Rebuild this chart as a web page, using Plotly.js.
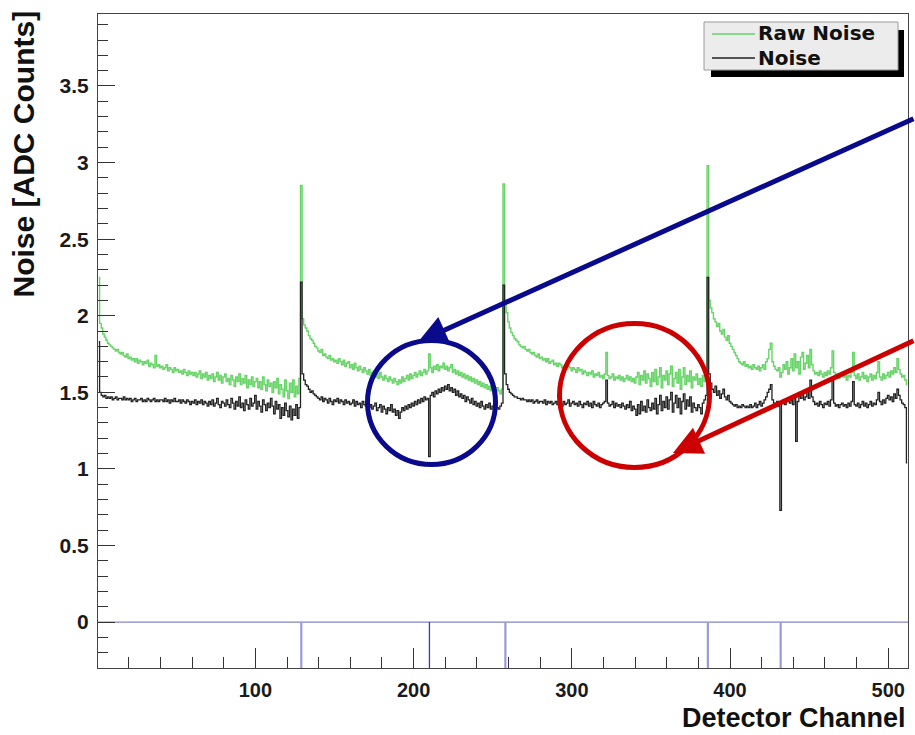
<!DOCTYPE html>
<html>
<head>
<meta charset="utf-8">
<script src="https://cdn.plot.ly/plotly-3.0.1.min.js"></script>
<style>
html,body{margin:0;padding:0;background:#ffffff;}
#chart{width:915px;height:735px;}
</style>
</head>
<body>
<div id="chart"></div>
<script>
// ---- data ----
const seriesNames = ['Raw Noise', 'Noise'];

const rawNoise = [
2.25,1.95,1.92,1.88,1.86,1.84,1.82,1.81,1.80,1.79,
1.78,1.77,1.78,1.76,1.75,1.76,1.74,1.73,1.75,1.72,
1.73,1.71,1.72,1.70,1.72,1.69,1.71,1.70,1.68,1.70,
1.69,1.71,1.67,1.69,1.68,1.66,1.74,1.67,1.68,1.66,
1.67,1.65,1.66,1.68,1.64,1.66,1.65,1.63,1.66,1.64,
1.65,1.63,1.64,1.62,1.65,1.63,1.61,1.64,1.62,1.63,
1.61,1.63,1.60,1.62,1.64,1.59,1.62,1.60,1.63,1.58,
1.61,1.59,1.62,1.57,1.60,1.63,1.58,1.61,1.56,1.60,
1.62,1.57,1.59,1.55,1.61,1.58,1.54,1.60,1.57,1.62,
1.55,1.59,1.56,1.61,1.53,1.58,1.55,1.60,1.54,1.57,
1.59,1.53,1.57,1.52,1.60,1.55,1.51,1.58,1.54,1.56,
1.50,1.57,1.53,1.59,1.49,1.55,1.52,1.47,1.58,1.51,
1.46,1.56,1.50,1.58,1.47,1.54,1.49,1.59,2.85,1.98,
1.94,1.92,1.90,1.87,1.85,1.84,1.82,1.80,1.79,1.77,
1.76,1.78,1.74,1.75,1.73,1.72,1.74,1.71,1.72,1.70,
1.71,1.69,1.72,1.70,1.68,1.71,1.67,1.69,1.70,1.66,
1.68,1.65,1.69,1.66,1.64,1.67,1.65,1.63,1.66,1.64,
1.62,1.65,1.61,1.63,1.64,1.60,1.62,1.59,1.63,1.60,
1.58,1.61,1.59,1.57,1.60,1.58,1.56,1.59,1.57,1.55,
1.58,1.56,1.60,1.57,1.59,1.61,1.58,1.62,1.59,1.61,
1.63,1.60,1.62,1.64,1.61,1.63,1.65,1.62,1.64,1.75,
1.66,1.63,1.67,1.65,1.68,1.64,1.67,1.66,1.69,1.65,
1.67,1.64,1.66,1.68,1.63,1.65,1.62,1.64,1.61,1.63,
1.60,1.62,1.59,1.61,1.58,1.60,1.57,1.59,1.56,1.58,
1.55,1.57,1.54,1.56,1.53,1.55,1.52,1.54,1.51,1.53,
1.52,1.50,1.53,1.51,1.49,1.52,2.86,2.10,2.02,1.96,
1.92,1.89,1.87,1.85,1.84,1.83,1.81,1.80,1.79,1.80,
1.78,1.77,1.78,1.76,1.75,1.76,1.74,1.73,1.75,1.72,
1.73,1.71,1.72,1.70,1.72,1.69,1.70,1.71,1.68,1.69,
1.67,1.69,1.68,1.66,1.67,1.68,1.65,1.67,1.66,1.64,
1.66,1.65,1.63,1.66,1.64,1.65,1.62,1.64,1.63,1.61,
1.63,1.62,1.64,1.60,1.62,1.61,1.63,1.60,1.61,1.59,
1.62,1.76,1.61,1.59,1.60,1.62,1.58,1.60,1.59,1.61,
1.58,1.60,1.57,1.59,1.61,1.58,1.60,1.57,1.59,1.56,
1.60,1.63,1.55,1.61,1.58,1.64,1.56,1.62,1.59,1.54,
1.63,1.57,1.65,1.55,1.60,1.66,1.53,1.61,1.58,1.64,
1.55,1.62,1.67,1.54,1.59,1.63,1.56,1.65,1.52,1.60,
1.66,1.55,1.61,1.57,1.64,1.53,1.60,1.58,1.62,1.55,
1.59,1.54,1.61,1.57,1.63,2.98,2.10,2.05,2.02,1.98,
1.96,1.93,1.95,1.90,1.88,1.91,1.86,1.84,1.87,1.82,
1.80,1.78,1.76,1.74,1.72,1.70,1.69,1.68,1.70,1.67,
1.68,1.66,1.67,1.65,1.68,1.66,1.65,1.67,1.64,1.66,
1.68,1.65,1.70,1.72,1.78,1.82,1.70,1.67,1.65,1.64,
1.66,1.60,1.63,1.68,1.65,1.70,1.62,1.66,1.72,1.64,
1.75,1.66,1.70,1.62,1.73,1.76,1.65,1.69,1.74,1.66,
1.78,1.68,1.64,1.62,1.63,1.61,1.64,1.62,1.60,1.63,
1.61,1.64,1.62,1.66,1.77,1.63,1.60,1.62,1.59,1.61,
1.63,1.60,1.62,1.58,1.61,1.60,1.63,1.76,1.61,1.59,
1.62,1.58,1.60,1.63,1.59,1.61,1.57,1.60,1.62,1.58,
1.61,1.59,1.63,1.70,1.60,1.58,1.62,1.59,1.61,1.63,
1.60,1.64,1.62,1.66,1.63,1.72,1.65,1.62,1.60,1.61,
1.58,1.55
];

const noise = [
1.83,1.50,1.48,1.47,1.48,1.46,1.47,1.46,1.47,1.45,
1.46,1.47,1.45,1.46,1.46,1.45,1.47,1.45,1.46,1.45,
1.46,1.44,1.45,1.46,1.44,1.45,1.45,1.46,1.44,1.45,
1.44,1.46,1.45,1.44,1.45,1.46,1.44,1.45,1.44,1.45,
1.45,1.44,1.46,1.44,1.45,1.43,1.45,1.44,1.46,1.44,
1.44,1.45,1.43,1.45,1.44,1.43,1.45,1.44,1.42,1.44,
1.43,1.45,1.42,1.44,1.43,1.45,1.42,1.44,1.43,1.41,
1.44,1.42,1.45,1.41,1.43,1.46,1.42,1.40,1.44,1.43,
1.41,1.45,1.42,1.40,1.46,1.43,1.39,1.44,1.41,1.47,
1.40,1.43,1.38,1.45,1.42,1.39,1.46,1.41,1.43,1.48,
1.39,1.44,1.41,1.37,1.45,1.42,1.38,1.43,1.40,1.46,
1.41,1.36,1.44,1.39,1.42,1.33,1.40,1.35,1.43,1.38,
1.34,1.41,1.32,1.39,1.35,1.42,1.33,1.40,2.22,1.62,
1.58,1.55,1.54,1.52,1.50,1.51,1.49,1.48,1.47,1.46,
1.45,1.47,1.44,1.46,1.45,1.43,1.46,1.44,1.42,1.45,
1.44,1.46,1.43,1.45,1.44,1.42,1.45,1.43,1.44,1.42,
1.43,1.45,1.41,1.44,1.42,1.43,1.40,1.44,1.42,1.41,
1.43,1.40,1.42,1.39,1.41,1.43,1.38,1.40,1.42,1.37,
1.41,1.39,1.36,1.40,1.38,1.42,1.37,1.39,1.35,1.38,
1.33,1.37,1.40,1.38,1.41,1.39,1.42,1.40,1.43,1.41,
1.44,1.42,1.45,1.43,1.46,1.44,1.47,1.45,1.46,1.08,
1.48,1.50,1.47,1.51,1.49,1.52,1.50,1.53,1.51,1.54,
1.52,1.55,1.51,1.53,1.50,1.52,1.48,1.51,1.47,1.49,
1.46,1.48,1.44,1.47,1.45,1.43,1.46,1.42,1.44,1.41,
1.43,1.40,1.44,1.41,1.39,1.42,1.40,1.43,1.39,1.41,
1.38,1.42,1.40,1.39,1.41,1.43,2.20,1.62,1.55,1.52,
1.50,1.49,1.48,1.47,1.47,1.46,1.46,1.45,1.46,1.45,
1.45,1.44,1.45,1.44,1.45,1.43,1.44,1.45,1.43,1.44,
1.44,1.43,1.45,1.42,1.44,1.43,1.44,1.42,1.43,1.44,
1.42,1.44,1.43,1.41,1.44,1.42,1.43,1.45,1.41,1.43,
1.44,1.42,1.43,1.41,1.44,1.42,1.40,1.43,1.42,1.44,
1.41,1.43,1.40,1.44,1.42,1.41,1.43,1.40,1.42,1.43,
1.44,1.58,1.43,1.41,1.42,1.44,1.40,1.43,1.41,1.42,
1.40,1.43,1.41,1.39,1.42,1.40,1.44,1.38,1.41,1.39,
1.35,1.42,1.36,1.44,1.38,1.41,1.37,1.45,1.40,1.38,
1.43,1.39,1.46,1.36,1.42,1.48,1.38,1.44,1.40,1.47,
1.39,1.45,1.50,1.37,1.43,1.48,1.40,1.46,1.36,1.44,
1.49,1.39,1.45,1.41,1.47,1.37,1.43,1.40,1.38,1.42,
1.40,1.36,1.43,1.45,1.48,2.25,1.62,1.56,1.52,1.50,
1.54,1.48,1.51,1.46,1.49,1.52,1.47,1.45,1.48,1.44,
1.43,1.42,1.41,1.42,1.40,1.41,1.40,1.42,1.41,1.40,
1.41,1.40,1.42,1.40,1.41,1.43,1.40,1.42,1.44,1.41,
1.43,1.45,1.47,1.50,1.52,1.55,1.45,1.43,1.42,1.44,
1.41,0.73,1.43,1.45,1.42,1.44,1.46,1.43,1.45,1.42,
1.47,1.18,1.44,1.48,1.46,1.50,1.45,1.47,1.52,1.46,
1.58,1.47,1.44,1.42,1.43,1.41,1.44,1.42,1.40,1.43,
1.42,1.44,1.41,1.45,1.58,1.43,1.41,1.42,1.40,1.42,
1.43,1.41,1.42,1.40,1.43,1.41,1.44,1.57,1.42,1.41,
1.43,1.40,1.42,1.44,1.41,1.43,1.40,1.42,1.44,1.41,
1.43,1.42,1.45,1.50,1.44,1.42,1.45,1.43,1.46,1.48,
1.45,1.47,1.44,1.49,1.46,1.52,1.48,1.45,1.43,1.42,
1.40,1.04
];

// flagged (bad) channels shown as drops of the status line below zero
const flaggedLight = [129, 258, 386, 432];
const flaggedDark = [210];
const statusLevel = 0;

const xTitle = 'Detector Channel';
const yTitle = 'Noise [ADC Counts]';

// ---- build traces ----
const channels = rawNoise.map((_, i) => i + 1);
const FONT = 'Liberation Sans, Arial, Helvetica, sans-serif';

function flagSegments(list) {
  const x = [], y = [];
  list.forEach(c => { x.push(c, c, null); y.push(statusLevel, -5, null); });
  return {x, y};
}
const fl = flagSegments(flaggedLight);
const fd = flagSegments(flaggedDark);

const traces = [
  {x: [0.5, 512.5], y: [statusLevel, statusLevel], mode: 'lines', showlegend: false,
   line: {color: '#8484cc', width: 1.3}, hoverinfo: 'skip'},
  {x: fl.x, y: fl.y, mode: 'lines', showlegend: false,
   line: {color: '#9a9ad8', width: 2.2}, hoverinfo: 'skip'},
  {x: fd.x, y: fd.y, mode: 'lines', showlegend: false,
   line: {color: '#3a3aaa', width: 1.3}, hoverinfo: 'skip'},
  {x: channels, y: rawNoise, name: seriesNames[0], mode: 'lines',
   line: {color: '#66d466', width: 1.4, shape: 'hvh'}, showlegend: false},
  {x: channels, y: noise, name: seriesNames[1], mode: 'lines',
   line: {color: '#222222', width: 1.3, shape: 'hvh'}, showlegend: false}
];

// pixel -> paper helpers (plot area: x 98..908, y 14..668)
const L = 98, R = 908, T = 14, B = 668;
const px = v => (v - L) / (R - L);
const py = v => (B - v) / (B - T);

const shapes = [
  // legend shadow and box
  {type: 'rect', xref: 'paper', yref: 'paper', x0: px(711), x1: px(904), y0: py(77), y1: py(30),
   fillcolor: '#000000', line: {width: 0}, layer: 'above'},
  {type: 'rect', xref: 'paper', yref: 'paper', x0: px(704), x1: px(898), y0: py(70), y1: py(22),
   fillcolor: '#ececec', line: {color: '#9a9a9a', width: 1}, layer: 'above'},
  {type: 'line', xref: 'paper', yref: 'paper', x0: px(712), x1: px(755), y0: py(34), y1: py(34),
   line: {color: '#66d466', width: 1.3}, layer: 'above'},
  {type: 'line', xref: 'paper', yref: 'paper', x0: px(712), x1: px(755), y0: py(58), y1: py(58),
   line: {color: '#222222', width: 1.3}, layer: 'above'},
  // highlight circles
  {type: 'circle', xref: 'paper', yref: 'paper', x0: px(367.5), x1: px(495.5), y0: py(464.5), y1: py(340.5),
   line: {color: '#0a0a8c', width: 5}, layer: 'above'},
  {type: 'circle', xref: 'paper', yref: 'paper', x0: px(559.5), x1: px(709.5), y0: py(467.5), y1: py(323.5),
   line: {color: '#cc0000', width: 5}, layer: 'above'}
];

const legendFont = {family: 'DejaVu Sans, Liberation Sans, sans-serif', size: 20, color: '#111', weight: 'bold'};

const annotations = [
  {xref: 'paper', yref: 'paper', x: px(757), y: py(33), xanchor: 'left', yanchor: 'middle',
   text: seriesNames[0], showarrow: false, font: legendFont, borderpad: 0},
  {xref: 'paper', yref: 'paper', x: px(757), y: py(58), xanchor: 'left', yanchor: 'middle',
   text: seriesNames[1], showarrow: false, font: legendFont, borderpad: 0},
  {xref: 'paper', yref: 'paper', x: px(907), y: py(718), xanchor: 'right', yanchor: 'middle',
   text: xTitle, showarrow: false, font: {family: FONT, size: 27, color: '#111', weight: 'bold'}, borderpad: 0},
  {xref: 'paper', yref: 'paper', x: px(23), y: py(9), xanchor: 'center', yanchor: 'top', textangle: -90,
   text: yTitle, showarrow: false, font: {family: FONT, size: 30, color: '#111', weight: 'bold'}},
  // arrows
  {xref: 'paper', yref: 'paper', x: px(418), y: py(342), ax: 502, ay: -224, text: '',
   showarrow: true, arrowhead: 2, arrowsize: 1.15, arrowwidth: 5, arrowcolor: '#0a0a8c', standoff: 0},
  {xref: 'paper', yref: 'paper', x: px(673), y: py(453), ax: 247, ay: -113, text: '',
   showarrow: true, arrowhead: 2, arrowsize: 1.15, arrowwidth: 5, arrowcolor: '#cc0000', standoff: 0}
];

const tickFont = {family: FONT, size: 21, color: '#1a1a1a', weight: 'bold'};
const xTickFont = {family: FONT, size: 20, color: '#1a1a1a', weight: 'bold'};

const layout = {
  width: 915, height: 735,
  margin: {l: L, r: 915 - R, t: T, b: 735 - B, pad: 0},
  paper_bgcolor: '#ffffff', plot_bgcolor: '#ffffff',
  showlegend: false,
  xaxis: {
    range: [0.5, 512.5], tickmode: 'linear', tick0: 0, dtick: 100,
    ticks: 'inside', ticklen: 20, tickwidth: 1, tickcolor: '#333',
    minor: {tickmode: 'linear', tick0: 0, dtick: 20, ticks: 'inside', ticklen: 11, tickcolor: '#333', tickwidth: 1},
    showgrid: false, zeroline: false, showline: true, linecolor: '#444', linewidth: 1, mirror: true,
    tickfont: xTickFont, ticklabelstandoff: 4
  },
  yaxis: {
    range: [-0.3, 3.97], tickmode: 'linear', tick0: 0, dtick: 0.5,
    ticks: 'inside', ticklen: 17, tickwidth: 1, tickcolor: '#333',
    minor: {tickmode: 'linear', tick0: 0, dtick: 0.1, ticks: 'inside', ticklen: 10, tickcolor: '#333', tickwidth: 1},
    showgrid: false, zeroline: false, showline: true, linecolor: '#444', linewidth: 1, mirror: true,
    tickfont: tickFont, ticklabelstandoff: 4
  },
  shapes: shapes,
  annotations: annotations
};

Plotly.newPlot('chart', traces, layout, {displayModeBar: false, staticPlot: true});
</script>
</body>
</html>
